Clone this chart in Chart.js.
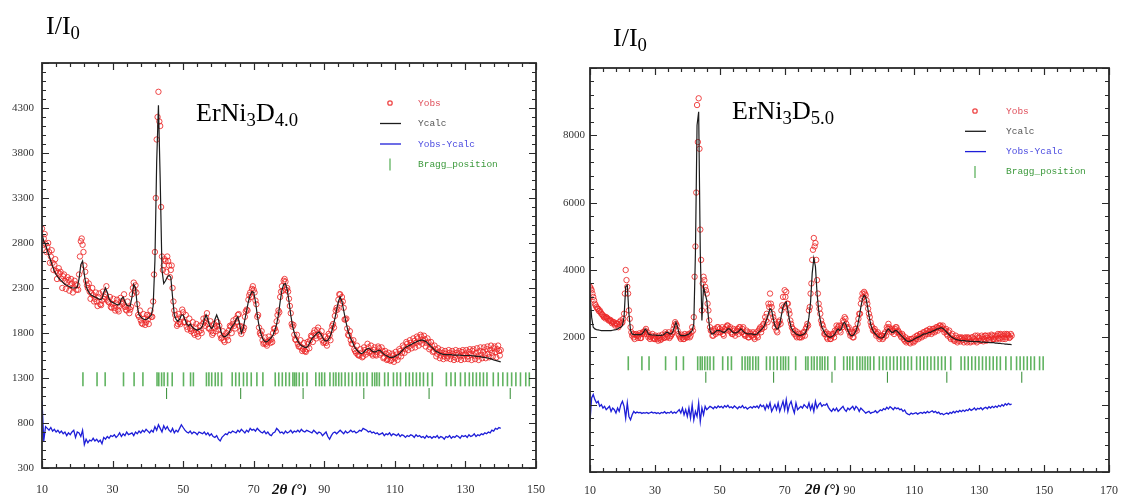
<!DOCTYPE html>
<html>
<head>
<meta charset="utf-8">
<script src="https://cdn.jsdelivr.net/npm/chart.js@4.4.0/dist/chart.umd.min.js"></script>
<style>
  html, body { margin: 0; padding: 0; background: #fff; }
  #page { position: relative; width: 1130px; height: 495px; overflow: hidden; background: #fff; }
  canvas { position: absolute; top: 0; }
  #chartL { left: 0; width: 560px; height: 495px; }
  #chartR { left: 560px; width: 570px; height: 495px; }
  .lbl { position: absolute; font-family: "Liberation Serif", "Times New Roman", serif; font-size: 26px; line-height: 1; color: #000; white-space: nowrap; }
  .lbl .s { font-size: 0.72em; position: relative; top: 0.28em; }
  .axt { position: absolute; font-family: "Liberation Serif", serif; font-weight: bold; font-style: italic; font-size: 15px; line-height: 1; color: #111; white-space: nowrap; }
</style>
</head>
<body>
<div id="page">
  <canvas id="chartL" width="560" height="495"></canvas>
  <canvas id="chartR" width="570" height="495"></canvas>
  <div class="lbl" style="left:46px;top:13px">I/I<span class="s">0</span></div>
  <div class="lbl" style="left:613px;top:25px">I/I<span class="s">0</span></div>
  <div class="lbl" style="left:196px;top:100px">ErNi<span class="s">3</span>D<span class="s">4.0</span></div>
  <div class="lbl" style="left:732px;top:98px">ErNi<span class="s">3</span>D<span class="s">5.0</span></div>
  <div class="axt" style="left:272px;top:482px">2θ (°)</div>
  <div class="axt" style="left:805px;top:482px">2θ (°)</div>
</div>
<script>
// 2theta steps (deg), shared by both patterns
const twoTheta = [
  10, 10.5, 11, 11.5, 12, 12.5, 13, 13.5, 14, 14.5,
  15, 15.5, 16, 16.5, 17, 17.5, 18, 18.5, 19, 19.5,
  20, 20.5, 21, 21.5, 22, 22.5, 23, 23.5, 24, 24.5,
  25, 25.5, 26, 26.5, 27, 27.5, 28, 28.5, 29, 29.5,
  30, 30.5, 31, 31.5, 32, 32.5, 33, 33.5, 34, 34.5,
  35, 35.5, 36, 36.5, 37, 37.5, 38, 38.5, 39, 39.5,
  40, 40.5, 41, 41.5, 42, 42.5, 43, 43.5, 44, 44.5,
  45, 45.5, 46, 46.5, 47, 47.5, 48, 48.5, 49, 49.5,
  50, 50.5, 51, 51.5, 52, 52.5, 53, 53.5, 54, 54.5,
  55, 55.5, 56, 56.5, 57, 57.5, 58, 58.5, 59, 59.5,
  60, 60.5, 61, 61.5, 62, 62.5, 63, 63.5, 64, 64.5,
  65, 65.5, 66, 66.5, 67, 67.5, 68, 68.5, 69, 69.5,
  70, 70.5, 71, 71.5, 72, 72.5, 73, 73.5, 74, 74.5,
  75, 75.5, 76, 76.5, 77, 77.5, 78, 78.5, 79, 79.5,
  80, 80.5, 81, 81.5, 82, 82.5, 83, 83.5, 84, 84.5,
  85, 85.5, 86, 86.5, 87, 87.5, 88, 88.5, 89, 89.5,
  90, 90.5, 91, 91.5, 92, 92.5, 93, 93.5, 94, 94.5,
  95, 95.5, 96, 96.5, 97, 97.5, 98, 98.5, 99, 99.5,
  100, 100.5, 101, 101.5, 102, 102.5, 103, 103.5, 104, 104.5,
  105, 105.5, 106, 106.5, 107, 107.5, 108, 108.5, 109, 109.5,
  110, 110.5, 111, 111.5, 112, 112.5, 113, 113.5, 114, 114.5,
  115, 115.5, 116, 116.5, 117, 117.5, 118, 118.5, 119, 119.5,
  120, 120.5, 121, 121.5, 122, 122.5, 123, 123.5, 124, 124.5,
  125, 125.5, 126, 126.5, 127, 127.5, 128, 128.5, 129, 129.5,
  130, 130.5, 131, 131.5, 132, 132.5, 133, 133.5, 134, 134.5,
  135, 135.5, 136, 136.5, 137, 137.5, 138, 138.5, 139, 139.5,
  140
];
// in-between observed steps
const thetaMid = [
  10.25, 10.75, 11.25, 11.75, 12.25, 12.75, 13.25, 13.75, 14.25, 14.75,
  15.25, 15.75, 16.25, 16.75, 17.25, 17.75, 18.25, 18.75, 19.25, 19.75,
  20.25, 20.75, 21.25, 21.75, 22.25, 22.75, 23.25, 23.75, 24.25, 24.75,
  25.25, 25.75, 26.25, 26.75, 27.25, 27.75, 28.25, 28.75, 29.25, 29.75,
  30.25, 30.75, 31.25, 31.75, 32.25, 32.75, 33.25, 33.75, 34.25, 34.75,
  35.25, 35.75, 36.25, 36.75, 37.25, 37.75, 38.25, 38.75, 39.25, 39.75,
  40.25, 40.75, 41.25, 41.75, 42.25, 42.75, 43.25, 43.75, 44.25, 44.75,
  45.25, 45.75, 46.25, 46.75, 47.25, 47.75, 48.25, 48.75, 49.25, 49.75,
  50.25, 50.75, 51.25, 51.75, 52.25, 52.75, 53.25, 53.75, 54.25, 54.75,
  55.25, 55.75, 56.25, 56.75, 57.25, 57.75, 58.25, 58.75, 59.25, 59.75,
  60.25, 60.75, 61.25, 61.75, 62.25, 62.75, 63.25, 63.75, 64.25, 64.75,
  65.25, 65.75, 66.25, 66.75, 67.25, 67.75, 68.25, 68.75, 69.25, 69.75,
  70.25, 70.75, 71.25, 71.75, 72.25, 72.75, 73.25, 73.75, 74.25, 74.75,
  75.25, 75.75, 76.25, 76.75, 77.25, 77.75, 78.25, 78.75, 79.25, 79.75,
  80.25, 80.75, 81.25, 81.75, 82.25, 82.75, 83.25, 83.75, 84.25, 84.75,
  85.25, 85.75, 86.25, 86.75, 87.25, 87.75, 88.25, 88.75, 89.25, 89.75,
  90.25, 90.75, 91.25, 91.75, 92.25, 92.75, 93.25, 93.75, 94.25, 94.75,
  95.25, 95.75, 96.25, 96.75, 97.25, 97.75, 98.25, 98.75, 99.25, 99.75,
  100.25, 100.75, 101.25, 101.75, 102.25, 102.75, 103.25, 103.75, 104.25, 104.75,
  105.25, 105.75, 106.25, 106.75, 107.25, 107.75, 108.25, 108.75, 109.25, 109.75,
  110.25, 110.75, 111.25, 111.75, 112.25, 112.75, 113.25, 113.75, 114.25, 114.75,
  115.25, 115.75, 116.25, 116.75, 117.25, 117.75, 118.25, 118.75, 119.25, 119.75,
  120.25, 120.75, 121.25, 121.75, 122.25, 122.75, 123.25, 123.75, 124.25, 124.75,
  125.25, 125.75, 126.25, 126.75, 127.25, 127.75, 128.25, 128.75, 129.25, 129.75,
  130.25, 130.75, 131.25, 131.75, 132.25, 132.75, 133.25, 133.75, 134.25, 134.75,
  135.25, 135.75, 136.25, 136.75, 137.25, 137.75, 138.25, 138.75, 139.25, 139.75
];

// ---- ErNi3D4.0 ----
const obsL = [
  2960, 2850, 2790, 2760, 2700, 2650, 2580, 2560, 2490, 2470,
  2460, 2400, 2430, 2380, 2360, 2390, 2330, 2350, 2310, 2340,
  2330, 2450, 2820, 2780, 2550, 2380, 2300, 2260, 2240, 2220,
  2180, 2150, 2200, 2120, 2160, 2180, 2230, 2170, 2140, 2090,
  2120, 2080, 2130, 2060, 2100, 2150, 2130, 2090, 2050, 2080,
  2060, 2230, 2360, 2330, 2120, 1980, 1940, 1900, 1960, 1920,
  1950, 1990, 1980, 2150, 2700, 3950, 4480, 4100, 2650, 2550,
  2600, 2650, 2550, 2500, 2300, 2050, 1950, 1900, 1920, 1980,
  2030, 1920, 1870, 1900, 1850, 1840, 1800, 1860, 1790, 1820,
  1830, 1900, 1920, 1970, 1900, 1850, 1820, 1800, 1860, 1880,
  1840, 1780, 1750, 1720, 1770, 1760, 1830, 1870, 1900, 1880,
  1960, 2000, 1880, 1790, 1830, 1980, 2060, 2170, 2250, 2290,
  2280, 2160, 1980, 1860, 1780, 1720, 1690, 1680, 1700, 1720,
  1730, 1800, 1850, 1930, 2050, 2200, 2320, 2380, 2370, 2300,
  2180, 2020, 1870, 1780, 1720, 1680, 1650, 1640, 1620, 1600,
  1620, 1680, 1720, 1760, 1800, 1770, 1830, 1790, 1770, 1720,
  1700, 1690, 1740, 1770, 1830, 1900, 1990, 2080, 2170, 2230,
  2200, 2080, 1950, 1850, 1770, 1720, 1680, 1620, 1580, 1560,
  1550, 1580, 1540, 1610, 1590, 1640, 1600, 1570, 1610, 1560,
  1590, 1630, 1580, 1600, 1530, 1570, 1510, 1540, 1500, 1550,
  1520, 1560, 1540, 1600, 1580, 1640, 1620, 1680, 1650, 1690,
  1670, 1710, 1690, 1740, 1700, 1760, 1720, 1730, 1690, 1700,
  1640, 1660, 1600, 1620, 1570, 1590, 1550, 1580, 1540, 1570,
  1540, 1580, 1550, 1570, 1530, 1580, 1560, 1540, 1590, 1550,
  1570, 1540, 1590, 1560, 1600, 1550, 1580, 1540, 1600, 1560,
  1590, 1560, 1620, 1570, 1610, 1580, 1630, 1590, 1620, 1600,
  1610
];
const obsMidL = [
  2780, 2900, 2700, 2800, 2580, 2720, 2500, 2620, 2400, 2520,
  2480, 2300, 2450, 2290, 2420, 2270, 2400, 2250, 2380, 2280,
  2280, 2650, 2850, 2700, 2480, 2330, 2350, 2180, 2300, 2150,
  2250, 2100, 2240, 2110, 2260, 2200, 2320, 2150, 2200, 2080,
  2180, 2050, 2170, 2040, 2190, 2120, 2230, 2060, 2150, 2020,
  2090, 2300, 2270, 2250, 2000, 2050, 1910, 2010, 1890, 2000,
  1900, 2050, 1980, 2450, 3300, 4200, 4150, 3200, 2500, 2620,
  2480, 2600, 2420, 2550, 2150, 2000, 1880, 2010, 1900, 2060,
  1920, 2000, 1840, 1960, 1820, 1920, 1780, 1900, 1760, 1880,
  1800, 1960, 1880, 2020, 1850, 1930, 1780, 1900, 1820, 1920,
  1880, 1740, 1820, 1700, 1800, 1720, 1880, 1800, 1940, 1850,
  1920, 2010, 1820, 1870, 1860, 2040, 2050, 2220, 2200, 2320,
  2250, 2120, 2000, 1800, 1820, 1680, 1750, 1660, 1760, 1690,
  1700, 1850, 1820, 2000, 2030, 2260, 2270, 2400, 2280, 2260,
  2100, 1900, 1890, 1730, 1780, 1650, 1720, 1600, 1690, 1590,
  1700, 1630, 1770, 1700, 1830, 1740, 1860, 1760, 1820, 1690,
  1760, 1660, 1790, 1720, 1880, 1860, 2050, 2060, 2230, 2130,
  2150, 1950, 1960, 1780, 1820, 1680, 1720, 1600, 1660, 1550,
  1620, 1530, 1640, 1560, 1680, 1580, 1660, 1550, 1640, 1550,
  1650, 1560, 1640, 1520, 1600, 1500, 1580, 1490, 1570, 1480,
  1590, 1500, 1620, 1540, 1660, 1580, 1700, 1610, 1720, 1630,
  1740, 1640, 1760, 1660, 1780, 1680, 1770, 1650, 1740, 1620,
  1700, 1590, 1660, 1540, 1630, 1520, 1610, 1510, 1600, 1520,
  1610, 1510, 1600, 1500, 1610, 1510, 1600, 1500, 1610, 1510,
  1610, 1510, 1620, 1500, 1620, 1510, 1630, 1500, 1640, 1520,
  1640, 1520, 1650, 1530, 1660, 1540, 1650, 1530, 1660, 1550
];
const calcL = [
  2900, 2820, 2780, 2720, 2660, 2600, 2540, 2490, 2450, 2420,
  2400, 2380, 2360, 2340, 2330, 2320, 2310, 2300, 2300, 2300,
  2310, 2400, 2560, 2600, 2450, 2320, 2270, 2240, 2220, 2210,
  2200, 2190, 2180, 2170, 2180, 2250, 2300, 2250, 2180, 2150,
  2140, 2130, 2120, 2110, 2120, 2180, 2200, 2150, 2110, 2100,
  2100, 2200, 2340, 2300, 2100, 2000, 1980, 1960, 1950, 1950,
  1960, 1980, 2000, 2100, 2600, 3700, 4330, 3500, 2500, 2350,
  2380, 2420, 2440, 2420, 2200, 2000, 1950, 1930, 1950, 2000,
  2000, 1950, 1900, 1880, 1900, 1870, 1850, 1840, 1830, 1840,
  1850, 1880, 1950, 2000, 1950, 1880, 1850, 1870, 1950, 2000,
  1950, 1850, 1780, 1760, 1760, 1780, 1800, 1850, 1880, 1900,
  1950, 1980, 1900, 1800, 1850, 1950, 2050, 2150, 2220, 2260,
  2250, 2150, 2000, 1880, 1800, 1740, 1710, 1700, 1710, 1730,
  1750, 1780, 1830, 1900, 2000, 2150, 2280, 2340, 2350, 2280,
  2150, 2000, 1880, 1800, 1750, 1710, 1680, 1660, 1650, 1640,
  1640, 1660, 1700, 1740, 1760, 1780, 1800, 1810, 1790, 1750,
  1720, 1710, 1720, 1750, 1800, 1880, 1960, 2060, 2150, 2200,
  2150, 2050, 1950, 1860, 1790, 1740, 1700, 1650, 1620, 1600,
  1580, 1570, 1580, 1600, 1620, 1630, 1620, 1600, 1590, 1590,
  1600, 1610, 1600, 1580, 1560, 1550, 1540, 1530, 1530, 1530,
  1540, 1550, 1560, 1580, 1600, 1620, 1640, 1650, 1660, 1670,
  1680, 1690, 1700, 1710, 1715, 1720, 1720, 1710, 1700, 1680,
  1660, 1640, 1620, 1600, 1590, 1580, 1570, 1565, 1560, 1560,
  1560, 1560, 1560, 1555, 1555, 1555, 1555, 1555, 1550, 1550,
  1550, 1550, 1550, 1550, 1545, 1545, 1540, 1540, 1540, 1535,
  1530, 1530, 1525, 1520, 1515, 1510, 1500, 1495, 1490, 1485,
  1480
];
const diffL = [
  1050, 600, 760, 740, 720, 750, 710, 730, 700, 720,
  690, 710, 680, 700, 660, 690, 670, 700, 720, 640,
  700, 690, 650, 720, 560, 620, 580, 610, 600, 630,
  600, 620, 590, 610, 570, 640, 620, 650, 630, 660,
  650, 670, 640, 660, 690, 650, 680, 660, 700, 670,
  680, 690, 660, 700, 680, 710, 690, 720, 700, 730,
  710, 690, 720, 700, 760, 720, 780, 740, 700, 770,
  730, 760, 720, 700, 740, 690, 720, 700, 740, 780,
  750, 720, 700, 690, 710, 680, 700, 690, 670, 700,
  690, 680, 700, 670, 690, 660, 680, 650, 640, 660,
  620, 600, 640, 660, 680, 670, 700, 690, 710, 700,
  690, 720, 700, 730, 710, 690, 720, 700, 740, 720,
  730, 710, 740, 720, 700, 690, 710, 680, 700, 670,
  660, 690, 700, 740, 720, 690, 700, 680, 710, 690,
  700, 720, 690, 710, 700, 720, 700, 730, 710, 700,
  720, 710, 700, 690, 720, 700, 680, 700, 690, 660,
  680, 700, 650, 620, 660, 690, 700, 680, 700, 720,
  700, 680, 710, 690, 700, 720, 700, 710, 690, 700,
  720, 710, 740, 730, 720, 700, 710, 690, 700, 680,
  690, 670, 680, 690, 660, 680, 670, 690, 660, 680,
  670, 660, 680, 650, 670, 660, 640, 660, 650, 670,
  660, 640, 670, 650, 660, 640, 650, 630, 660, 640,
  650, 630, 650, 640, 660, 630, 650, 640, 620, 650,
  640, 660, 630, 650, 640, 660, 650, 630, 660, 650,
  660, 640, 670, 650, 660, 680, 650, 670, 660, 680,
  670, 690, 680, 700, 690, 720, 710, 740, 730, 750,
  740
];
const braggL1 = [
  21.6, 25.6, 27.9, 33.1, 36.1, 38.6, 42.6, 43.1, 43.9, 44.6, 45.6, 46.9,
  50.1, 52.1, 52.9, 56.6, 57.3, 58.1, 59.1, 59.9, 60.9, 63.9, 64.9, 65.9,
  67.1, 68.1, 69.3, 70.9, 72.6, 76.1, 77.1, 78.1, 79.1, 80.1, 81.1, 81.6,
  82.1, 82.9, 83.9, 85.1, 87.6, 88.6, 89.3, 90.1, 91.6, 92.6, 93.3, 94.1,
  94.9, 95.9, 96.9, 97.9, 99.1, 100.1, 101.1, 102.1, 103.6, 104.3, 104.9, 105.6,
  107.1, 108.1, 109.6, 110.6, 111.6, 113.1, 114.1, 115.1, 116.1, 117.1, 118.1, 119.3,
  120.6, 124.6, 125.9, 127.1, 128.6, 129.9, 131.1, 132.1, 133.1, 134.1, 135.1, 136.1,
  137.9, 139.3, 140.6, 141.9, 143.1, 144.3, 145.6, 147.1, 148.1
];
const braggL2 = [45.3, 66.3, 84.0, 101.2, 119.7, 142.7];
const braggRowL = [1285, 1128];

// ---- ErNi3D5.0 ----
const obsR = [
  3500, 3400, 3200, 3000, 2900, 2850, 2800, 2700, 2650, 2620,
  2600, 2550, 2500, 2480, 2450, 2400, 2420, 2380, 2450, 2500,
  2450, 2700, 4000, 3500, 2800, 2300, 2050, 2000, 2080, 2050,
  2050, 1980, 2100, 2150, 2200, 2100, 2000, 1950, 2050, 1980,
  1950, 2000, 1900, 1980, 1950, 2020, 1990, 2100, 2050, 1980,
  2050, 2150, 2350, 2400, 2200, 2050, 1950, 2000, 1950, 2050,
  2000, 2100, 2050, 2300, 2600, 4700, 8900, 9100, 5200, 2800,
  3800, 3500, 3300, 2800, 2300, 2200, 2050, 2250, 2150, 2300,
  2250, 2200, 2100, 2250, 2300, 2350, 2250, 2150, 2100, 2200,
  2150, 2250, 2300, 2200, 2250, 2100, 2050, 2150, 2000, 2100,
  2050, 2000, 2100, 2050, 2200, 2300, 2250, 2400, 2600, 2700,
  3000, 3300, 2900, 2600, 2300, 2200, 2350, 2500, 2800, 3200,
  3400, 3350, 3000, 2700, 2400, 2250, 2100, 2050, 2150, 2000,
  2100, 2050, 2150, 2250, 2400, 2800, 3300, 4300, 4950, 4800,
  3700, 3000, 2700, 2400, 2250, 2100, 2000, 2100, 1950, 2050,
  2100, 2200, 2350, 2300, 2200, 2350, 2500, 2600, 2400, 2250,
  2150, 2100, 2000, 2150, 2250, 2400, 2700, 3000, 3300, 3350,
  3250, 3000, 2700, 2450, 2300, 2200, 2150, 2100, 2050, 2000,
  2050, 2000, 2150, 2300, 2400, 2250, 2150, 2200, 2250, 2300,
  2200, 2100, 2000, 2050, 1900, 1850, 1900, 1850, 1950, 1880,
  2000, 1950, 2050, 2000, 2100, 2050, 2150, 2100, 2200, 2150,
  2200, 2150, 2250, 2200, 2300, 2280, 2350, 2300, 2250, 2200,
  2100, 2150, 2000, 2050, 1950, 1900, 1980, 1900, 1950, 2000,
  1920, 1980, 1900, 2000, 1950, 1880, 2000, 1950, 1900, 2050,
  1980, 1900, 2000, 1950, 2050, 1980, 1920, 2000, 2050, 1950,
  2000, 2050, 1980, 2100, 2000, 2050, 1950, 2100, 2050, 2000,
  2050
];
const obsMidR = [
  3450, 3300, 3100, 2950, 2850, 2780, 2750, 2680, 2600, 2560,
  2580, 2500, 2520, 2420, 2460, 2350, 2400, 2300, 2380, 2420,
  2550, 3300, 3700, 3300, 2550, 2150, 2100, 1950, 2100, 1980,
  2120, 1980, 2150, 2100, 2250, 2150, 2050, 2000, 2100, 1950,
  2050, 1950, 2050, 1920, 2080, 1980, 2150, 2000, 2150, 2030,
  2100, 2250, 2450, 2350, 2100, 2000, 2080, 1950, 2100, 2000,
  2080, 2000, 2150, 2200, 3800, 6300, 7800, 7600, 4300, 3600,
  3700, 3400, 3000, 2500, 2200, 2050, 2200, 2100, 2300, 2150,
  2150, 2300, 2050, 2200, 2350, 2200, 2300, 2100, 2250, 2050,
  2200, 2100, 2300, 2150, 2300, 2050, 2200, 2000, 2150, 2050,
  2150, 1950, 2150, 2000, 2250, 2150, 2350, 2300, 2500, 2450,
  2900, 3000, 2700, 2500, 2400, 2150, 2450, 2400, 2950, 2900,
  3200, 3000, 2800, 2500, 2300, 2150, 2200, 2000, 2100, 2000,
  2000, 2150, 2050, 2300, 2350, 2900, 3600, 4600, 4700, 4300,
  3300, 2850, 2500, 2350, 2100, 2150, 1950, 2050, 1950, 2100,
  2000, 2150, 2250, 2350, 2150, 2300, 2450, 2550, 2300, 2300,
  2050, 2150, 2000, 2250, 2200, 2550, 2700, 3150, 3200, 3300,
  3100, 2850, 2600, 2350, 2200, 2250, 2050, 2150, 1950, 2050,
  1950, 2100, 2050, 2250, 2300, 2200, 2250, 2100, 2300, 2150,
  2150, 2050, 2100, 1950, 2000, 1900, 1950, 1820, 1950, 1850,
  1900, 2050, 1950, 2100, 2000, 2150, 2050, 2200, 2100, 2250,
  2100, 2250, 2150, 2300, 2200, 2350, 2250, 2350, 2150, 2250,
  2050, 2200, 1950, 2100, 1900, 2050, 1850, 2000, 1880, 1980,
  1850, 2000, 1850, 1980, 1850, 2000, 1880, 2050, 1850, 2000,
  1900, 2050, 1880, 2050, 1900, 2050, 1920, 2080, 1950, 2050,
  1950, 2100, 1950, 2080, 1950, 2100, 2000, 2080, 1980, 2100
];
const calcR = [
  3300, 2600, 2300, 2250, 2230, 2220, 2210, 2200, 2200, 2200,
  2200, 2200, 2200, 2200, 2210, 2220, 2230, 2250, 2280, 2300,
  2350, 2600, 3500, 3550, 2700, 2200, 2100, 2080, 2080, 2080,
  2080, 2080, 2100, 2150, 2250, 2200, 2100, 2080, 2070, 2070,
  2070, 2060, 2060, 2060, 2060, 2070, 2100, 2150, 2150, 2100,
  2100, 2150, 2300, 2450, 2300, 2100, 2050, 2050, 2050, 2060,
  2080, 2100, 2150, 2200, 2400, 4500, 8300, 8700, 4500, 2500,
  3500, 3300, 3100, 2600, 2200, 2100, 2100, 2150, 2200, 2200,
  2200, 2180, 2150, 2150, 2200, 2250, 2250, 2200, 2150, 2130,
  2130, 2150, 2200, 2250, 2200, 2150, 2120, 2100, 2100, 2100,
  2100, 2080, 2080, 2100, 2150, 2200, 2250, 2300, 2400, 2550,
  2700, 2850, 2800, 2550, 2350, 2250, 2250, 2400, 2650, 2900,
  3000, 3050, 2800, 2500, 2300, 2200, 2150, 2100, 2080, 2060,
  2060, 2080, 2100, 2150, 2300, 2600, 3050, 3900, 4350, 4100,
  3300, 2800, 2500, 2300, 2200, 2100, 2050, 2020, 2000, 2020,
  2050, 2100, 2200, 2250, 2200, 2250, 2400, 2450, 2350, 2200,
  2100, 2050, 2050, 2100, 2200, 2350, 2600, 2900, 3150, 3250,
  3200, 2950, 2650, 2400, 2250, 2150, 2100, 2050, 2000, 1980,
  1980, 2000, 2100, 2200, 2250, 2200, 2150, 2150, 2200, 2200,
  2150, 2100, 2050, 2000, 1950, 1900, 1880, 1880, 1900, 1920,
  1950, 1980, 2000, 2020, 2050, 2080, 2100, 2100, 2120, 2150,
  2150, 2180, 2200, 2220, 2250, 2250, 2280, 2280, 2250, 2200,
  2150, 2100, 2050, 2000, 1980, 1950, 1930, 1920, 1910, 1900,
  1900, 1900, 1890, 1890, 1880, 1880, 1880, 1870, 1870, 1870,
  1870, 1860, 1860, 1860, 1850, 1850, 1850, 1840, 1840, 1840,
  1830, 1830, 1820, 1820, 1810, 1810, 1800, 1800, 1790, 1790,
  1780
];
const diffR = [
  -500, 200, 300, 150, 50, 100, -50, 0, -100, -50,
  -150, -100, -50, -200, -100, -150, -250, -100, -200, 0,
  100, -50, -400, 50, -350, -450, -300, -200, -250, -220,
  -240, -230, -260, -240, -250, -230, -260, -240, -220, -250,
  -230, -260, -240, -270, -230, -250, -210, -260, -230, -250,
  -200, -260, -220, -250, -200, -150, -250, -100, -300, -150,
  -350, -100, -400, 0, -450, -200, -350, 50, -500, -100,
  -300, -50, -150, -100, -50, -80, -120, -60, -100, -40,
  -80, -50, -100, -30, -70, -20, -90, -60, -100, -40,
  -80, -120, -60, -90, -30, -100, -70, -130, -90, -60,
  -100, -50, -80, -40, -100, 0, -60, -20, -150, 0,
  -100, 50, -200, -100, 0, -150, 50, -200, -50, 100,
  -150, 150, -200, 0, 100, -100, -250, 50, -150, -100,
  -50, -100, 0, -50, -100, 50, -150, 0, -200, 100,
  -100, 0, 50, -50, 0, -20, 30, -80, -150, -200,
  -120, -180, -100, -200, -150, -100, -50, -150, -200, -100,
  -150, -100, -50, -150, -50, -100, -200, -100, -150, -200,
  -250, -220, -200, -260, -230, -220, -180, -240, -200, -150,
  -180, -120, -150, -80, -130, -60, -100, -150, -80, -120,
  -100, -150, -130, -200, -160, -250, -280, -300, -250, -280,
  -260, -240, -280, -250, -230, -260, -220, -250, -200, -240,
  -210, -180, -230, -200, -250, -220, -280, -260, -300, -270,
  -250, -280, -230, -260, -200, -240, -190, -220, -170, -210,
  -160, -200, -150, -180, -120, -170, -140, -100, -160, -110,
  -130, -90, -150, -100, -80, -120, -60, -100, -50, -90,
  -40, -80, -20, -60, 0, -40, 30, -10, 40, 0,
  20
];
const braggR1 = [
  21.8, 26.0, 28.2, 33.3, 36.6, 38.8, 43.2, 44.0, 44.6, 45.4, 46.2, 47.0,
  48.1, 50.9, 52.5, 53.6, 56.9, 57.8, 58.6, 59.3, 60.2, 61.1, 61.9, 64.4,
  65.5, 66.6, 67.7, 68.8, 69.6, 70.3, 71.2, 73.4, 76.5, 77.2, 78.3, 79.1,
  80.0, 80.9, 81.6, 82.4, 83.3, 85.5, 88.2, 89.3, 90.1, 91.0, 92.3, 93.2,
  94.0, 94.8, 95.6, 96.4, 97.5, 99.2, 100.3, 101.4, 102.5, 103.6, 104.7, 105.8,
  106.9, 108.0, 109.1, 110.7, 111.8, 112.9, 114.0, 115.1, 116.2, 117.3, 118.4, 119.5,
  121.2, 124.4, 125.5, 126.6, 127.7, 128.8, 129.9, 131.0, 132.1, 133.2, 134.3, 135.4,
  136.5, 138.2, 139.8, 141.5, 142.6, 143.7, 144.8, 145.9, 147.0, 148.6, 149.7
];
const braggR2 = [45.7, 66.6, 84.6, 101.7, 120.0, 143.1];
const braggRowR = [1230, 815];

// x ticks every 20 deg, minor every 4
const xStep = 20;

function toPoints(xs, ys) {
  return ys.map(function (y, i) { return { x: xs[i], y: y }; });
}
function atLevel(xs, level) {
  return xs.map(function (x) { return { x: x, y: level }; });
}
function isMajor(d, step) {
  const q = d / step;
  return Math.abs(q - Math.round(q)) < 1e-6;
}

// box around the plot with inward ticks on all four sides
const frameTicks = {
  id: 'frameTicks',
  afterDatasetsDraw(chart, args, opts) {
    const ctx = chart.ctx, a = chart.chartArea;
    const xs = chart.scales.x, ys = chart.scales.y;
    ctx.save();
    ctx.strokeStyle = '#2a2a2a';
    ctx.lineWidth = 1.2;
    ctx.beginPath();
    for (let v = xs.min; v <= xs.max + 1e-6; v += opts.xMinor) {
      const len = isMajor(v - xs.min, opts.xMajor) ? 7 : 4;
      const px = Math.round(xs.getPixelForValue(v)) + 0.5;
      ctx.moveTo(px, a.bottom); ctx.lineTo(px, a.bottom - len);
      ctx.moveTo(px, a.top); ctx.lineTo(px, a.top + len);
    }
    for (let v = ys.min; v <= ys.max + 1e-6; v += opts.yMinor) {
      const len = isMajor(v - ys.min, opts.yMajor) ? 7 : 4;
      const py = Math.round(ys.getPixelForValue(v)) + 0.5;
      ctx.moveTo(a.left, py); ctx.lineTo(a.left + len, py);
      ctx.moveTo(a.right, py); ctx.lineTo(a.right - len, py);
    }
    ctx.stroke();
    ctx.lineWidth = 1.8;
    ctx.strokeRect(a.left, a.top, a.right - a.left, a.bottom - a.top);
    ctx.restore();
  }
};

// FullProf style legend inside the frame
const boxLegend = {
  id: 'boxLegend',
  afterDraw(chart, args, opts) {
    const ctx = chart.ctx;
    ctx.save();
    ctx.font = '9.5px "Liberation Mono", "DejaVu Sans Mono", monospace';
    ctx.textBaseline = 'middle';
    opts.items.forEach(function (it, i) {
      const y = opts.y + i * opts.gap;
      const ds = chart.data.datasets.find(function (d) { return d.label === it.label; });
      const col = ds.pointBorderColor || ds.borderColor;
      ctx.strokeStyle = col;
      ctx.lineWidth = 1.3;
      ctx.beginPath();
      if (it.mark === 'circle') {
        ctx.arc(opts.x, y, 2.2, 0, Math.PI * 2);
      } else if (it.mark === 'line') {
        ctx.moveTo(opts.x - 10, y); ctx.lineTo(opts.x + 11, y);
      } else {
        ctx.moveTo(opts.x, y - 6); ctx.lineTo(opts.x, y + 6);
      }
      ctx.stroke();
      ctx.fillStyle = it.textColor;
      ctx.fillText(it.label, opts.textX, y);
    });
    ctx.restore();
  }
};

const legendItems = [
  { label: 'Yobs', mark: 'circle', textColor: '#e0505c' },
  { label: 'Ycalc', mark: 'line', textColor: '#555' },
  { label: 'Yobs-Ycalc', mark: 'line', textColor: '#4b4be0' },
  { label: 'Bragg_position', mark: 'bar', textColor: '#3d9a3d' }
];

function makeRietveld(canvasId, d) {
  const observed = toPoints(twoTheta, d.obs).concat(toPoints(thetaMid, d.obsMid));
  const datasets = [
    { label: 'Ycalc', data: toPoints(twoTheta, d.calc), showLine: true, borderColor: '#1c1c1c', borderWidth: 1.2, pointRadius: 0, tension: 0 },
    { label: 'Yobs', data: observed, showLine: false, pointStyle: 'circle', pointRadius: 2.7,
      pointBorderColor: 'rgba(236,40,40,0.85)', pointBackgroundColor: 'rgba(0,0,0,0)', pointBorderWidth: 1, borderColor: 'rgba(236,40,40,0.85)' },
    { label: 'Yobs-Ycalc', data: toPoints(twoTheta, d.diff), showLine: true, borderColor: '#1e1ed8', borderWidth: 1.3, pointRadius: 0, tension: 0 },
    { label: 'Bragg_position', data: atLevel(d.bragg1, d.rows[0]), showLine: false, pointStyle: 'line', pointRotation: 90,
      pointRadius: 7, pointBorderColor: 'rgba(34,150,34,0.72)', pointBorderWidth: 1.6, borderColor: 'rgba(34,150,34,0.72)' },
    { label: 'Bragg_position 2', data: atLevel(d.bragg2, d.rows[1]), showLine: false, pointStyle: 'line', pointRotation: 90,
      pointRadius: 5.5, pointBorderColor: 'rgba(34,130,34,0.85)', pointBorderWidth: 1.1, borderColor: 'rgba(34,130,34,0.85)' }
  ];

  return new Chart(document.getElementById(canvasId), {
    type: 'scatter',
    data: { datasets: datasets },
    options: {
      responsive: false,
      animation: false,
      events: [],
      layout: { padding: d.pad },
      scales: {
        x: {
          type: 'linear', min: d.xMin, max: d.xMax,
          afterFit: function (s) { s.height = d.xAxisH; },
          grid: { display: false, drawTicks: false },
          border: { display: false },
          ticks: { stepSize: xStep, padding: d.xPad, autoSkip: false, maxRotation: 0, color: '#333',
            font: { family: 'Liberation Serif', size: 12 },
            callback: function (v) { return String(v); } }
        },
        y: {
          type: 'linear', min: d.yMin, max: d.yMax,
          afterFit: function (s) { s.width = d.yAxisW; },
          grid: { display: false, drawTicks: false },
          border: { display: false },
          ticks: { stepSize: d.yMajor, padding: d.yPad, autoSkip: false, color: '#333',
            font: { family: 'Liberation Serif', size: 11 },
            callback: function (v) { return (v >= d.yLabelFrom && v <= d.yLabelTo) ? String(v) : ''; } }
        }
      },
      plugins: {
        legend: { display: false },
        tooltip: { enabled: false },
        frameTicks: { xMinor: 4, xMajor: xStep, yMinor: d.yMinor, yMajor: d.yMajor },
        boxLegend: { items: legendItems, x: d.legend[0], y: d.legend[1], gap: d.legend[2], textX: d.legend[3] }
      }
    },
    plugins: [frameTicks, boxLegend]
  });
}

makeRietveld('chartL', {
  obs: obsL, obsMid: obsMidL, calc: calcL, diff: diffL, bragg1: braggL1, bragg2: braggL2, rows: braggRowL,
  xMin: 10, xMax: 150, yMin: 300, yMax: 4800, yMajor: 500, yMinor: 100, yLabelFrom: 300, yLabelTo: 4300,
  pad: { top: 63, right: 20, left: 0, bottom: 0 }, xAxisH: 27, yAxisW: 42, xPad: 15, yPad: 8,
  legend: [390, 103, 20.5, 418]
});

makeRietveld('chartR', {
  obs: obsR, obsMid: obsMidR, calc: calcR, diff: diffR, bragg1: braggR1, bragg2: braggR2, rows: braggRowR,
  xMin: 10, xMax: 170, yMin: -2000, yMax: 10000, yMajor: 2000, yMinor: 400, yLabelFrom: 2000, yLabelTo: 8000,
  pad: { top: 68, right: 10, left: 0, bottom: 0 }, xAxisH: 23, yAxisW: 30, xPad: 12, yPad: 5,
  legend: [415, 111, 20.3, 446]
});
</script>
</body>
</html>
